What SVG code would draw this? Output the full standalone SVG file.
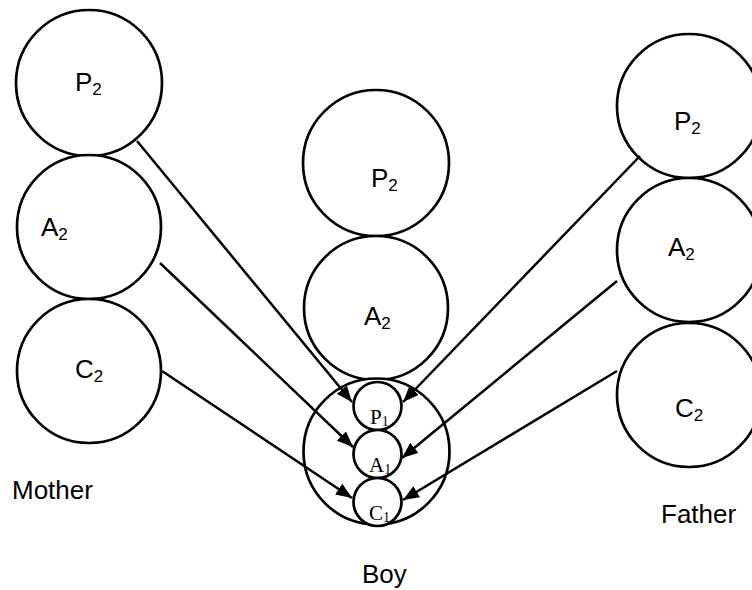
<svg xmlns="http://www.w3.org/2000/svg" width="752" height="590" viewBox="0 0 752 590">
<style>
.big{fill:#fff;stroke:#000;stroke-width:2.7}
.small{fill:#fff;stroke:#000;stroke-width:2.7}
.lbl{font-family:"Liberation Sans",Arial,sans-serif;font-size:26px;fill:#000}
.sub{font-size:17px}
.slbl{font-family:"Liberation Serif","Times New Roman",serif;font-size:21px;fill:#000}
.ssub{font-size:14px}
.conn{stroke:#000;stroke-width:2.5;fill:none}
</style>
<defs>
<marker id="ah" viewBox="0 0 16 13" refX="16" refY="6.5" markerWidth="16" markerHeight="13" markerUnits="userSpaceOnUse" orient="auto">
<path d="M0,0 L16,6.5 L0,13 z" fill="#000"/>
</marker>
</defs>
<rect width="752" height="590" fill="#fff"/>
<g id="mother-p2"><circle class="big" cx="89" cy="83" r="73"/><text class="lbl" x="75" y="91">P<tspan class="sub" dy="4">2</tspan></text></g>
<g id="mother-a2"><circle class="big" cx="89" cy="227" r="72"/><text class="lbl" x="41" y="236">A<tspan class="sub" dy="4">2</tspan></text></g>
<g id="mother-c2"><circle class="big" cx="89" cy="371" r="72"/><text class="lbl" x="75" y="378">C<tspan class="sub" dy="4">2</tspan></text></g>
<g id="mother-label"><text class="lbl" x="12" y="499">Mother</text></g>
<g id="boy-p2"><circle class="big" cx="376" cy="163" r="73"/><text class="lbl" x="371" y="187">P<tspan class="sub" dy="4">2</tspan></text></g>
<g id="boy-a2"><circle class="big" cx="376" cy="308" r="72"/><text class="lbl" x="364" y="325">A<tspan class="sub" dy="4">2</tspan></text></g>
<g id="boy"><circle class="big" cx="376.5" cy="451.5" r="73"/></g>
<g id="boy-p1"><circle class="small" cx="377.5" cy="406" r="24"/><text class="slbl" x="370" y="424">P<tspan class="ssub" dy="2">1</tspan></text></g>
<g id="boy-a1"><circle class="small" cx="377.5" cy="454" r="24"/><text class="slbl" x="369" y="472">A<tspan class="ssub" dy="2">1</tspan></text></g>
<g id="boy-c1"><circle class="small" cx="377.5" cy="502" r="24"/><text class="slbl" x="369" y="520">C<tspan class="ssub" dy="2">1</tspan></text></g>
<g id="boy-label"><text class="lbl" x="362" y="583">Boy</text></g>
<g id="father-p2"><circle class="big" cx="689" cy="106" r="72"/><text class="lbl" x="674" y="130">P<tspan class="sub" dy="4">2</tspan></text></g>
<g id="father-a2"><circle class="big" cx="689" cy="250" r="72"/><text class="lbl" x="668" y="256">A<tspan class="sub" dy="4">2</tspan></text></g>
<g id="father-c2"><circle class="big" cx="689" cy="395" r="72"/><text class="lbl" x="675" y="417">C<tspan class="sub" dy="4">2</tspan></text></g>
<g id="father-label"><text class="lbl" x="661" y="523">Father</text></g>
<g id="connectors">
<line class="conn" x1="137" y1="141" x2="352" y2="402" marker-end="url(#ah)"/>
<line class="conn" x1="160" y1="263" x2="353" y2="447" marker-end="url(#ah)"/>
<line class="conn" x1="162" y1="371" x2="352" y2="498" marker-end="url(#ah)"/>
<line class="conn" x1="640" y1="156" x2="403" y2="402" marker-end="url(#ah)"/>
<line class="conn" x1="617" y1="281" x2="402" y2="458" marker-end="url(#ah)"/>
<line class="conn" x1="617" y1="371" x2="403" y2="500" marker-end="url(#ah)"/>
</g>
</svg>
